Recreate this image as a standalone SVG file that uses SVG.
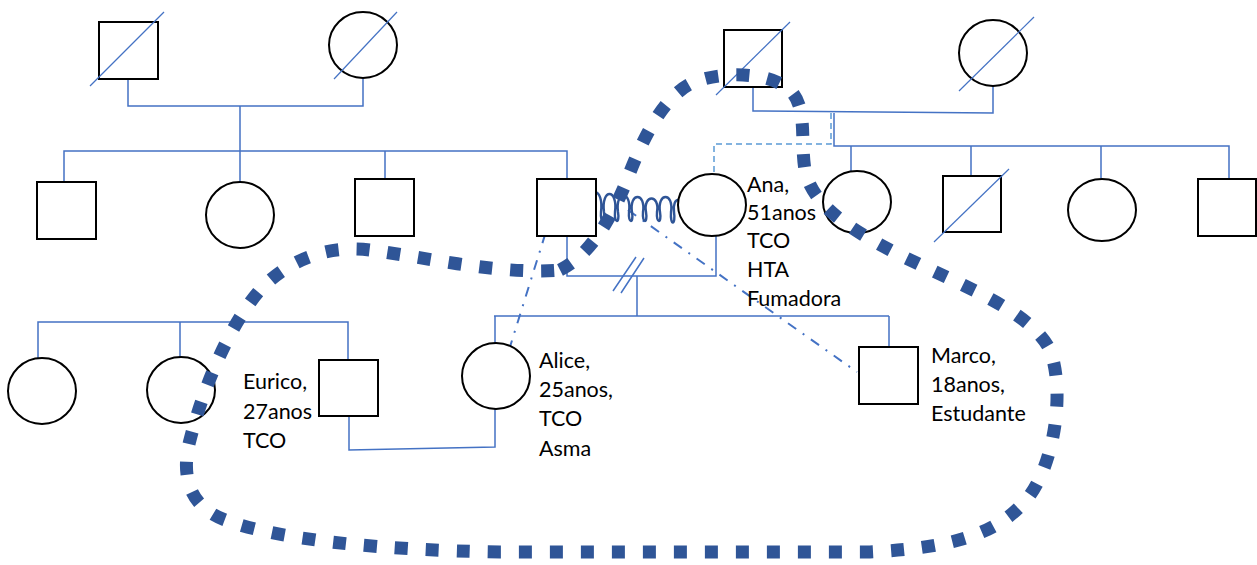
<svg xmlns="http://www.w3.org/2000/svg" width="1257" height="565" viewBox="0 0 1257 565">
<style>
.n{fill:#fff;stroke:#000;stroke-width:2}
.c{fill:none;stroke:#4472C4;stroke-width:1.5}
.d{fill:none;stroke:#5B9BD5;stroke-width:1.5;stroke-dasharray:6 4}
.dd{fill:none;stroke:#4472C4;stroke-width:2;stroke-dasharray:10 8 2 8}
.x{stroke:#4472C4;stroke-width:1.2}
.t{font-family:Lato,"Liberation Sans",sans-serif;font-size:21.5px;fill:#000}
</style>
<rect width="1257" height="565" fill="#fff"/>
<g id="connectors">
<path class="c" d="M128 79V106H363V79M240 106V151M64 182V151H567V180M385 151V179M240 151V182"/>
<path class="c" d="M753 87V111L993 113V86M834 113V146H1229V178M851 146V171M971 146V176M1101 146V178"/>
<path class="d" d="M831 113V144H714V175"/>
<path class="c" d="M567 236V276H716V236M637 276V316M494 316H889M495 316V343M889 316V347"/>
<path class="c" d="M613 291L636 257M621 293L644 258"/>
<path class="c" d="M495 409V447L349 450V416M38 358V322H348V360M180 322V357"/>
<path class="dd" d="M509 350L549 222"/>
<path class="dd" d="M628 210L857 372"/>
<path fill="none" stroke="#2F5597" stroke-width="2.4" d="M590 212c-3,-26 14,-26 11,0c-1,12 5,12 3,0c-3,-24 14,-24 11,0c-1,12 5,12 3,0c-3,-22 14,-22 11,0c-1,12 5,12 3,0c-3,-20 14,-20 11,0c-1,12 5,12 3,0c-3,-18 14,-18 11,0c-1,12 5,12 3,0c-3,-20 14,-20 11,0c-1,14 5,14 3,0c-2,-16 10,-16 8,0"/>
</g>
<g id="gp1"><rect class="n" x="99" y="22" width="59" height="57"/><line class="x" x1="90" y1="86" x2="164" y2="12"/></g>
<g id="gp2"><ellipse class="n" cx="363" cy="45" rx="34" ry="33"/><line class="x" x1="334" y1="79" x2="397" y2="12"/></g>
<g id="gp3"><rect class="n" x="724" y="30" width="58" height="57"/><line class="x" x1="716" y1="95" x2="790" y2="22"/></g>
<g id="gp4"><ellipse class="n" cx="993" cy="53" rx="34" ry="33"/><line class="x" x1="959" y1="91" x2="1034" y2="17"/></g>
<g id="s1"><rect class="n" x="37" y="182" width="59" height="57"/></g>
<g id="s2"><ellipse class="n" cx="240" cy="215" rx="34" ry="33"/></g>
<g id="s3"><rect class="n" x="355" y="179" width="59" height="57"/></g>
<g id="father"><rect class="n" x="537" y="179" width="59" height="57"/></g>
<g id="ana"><ellipse class="n" cx="712" cy="205" rx="34" ry="31"/>
<text class="t" x="747" y="192">Ana,</text><text class="t" x="747" y="220">51anos</text><text class="t" x="747" y="248">TCO</text><text class="t" x="747" y="277">HTA</text><text class="t" x="747" y="306">Fumadora</text></g>
<g id="s4"><ellipse class="n" cx="857" cy="202" rx="34" ry="31"/></g>
<g id="s5"><rect class="n" x="943" y="176" width="58" height="56"/><line class="x" x1="934" y1="242" x2="1009" y2="169"/></g>
<g id="s6"><ellipse class="n" cx="1102" cy="210" rx="34" ry="31"/></g>
<g id="s7"><rect class="n" x="1198" y="179" width="58" height="57"/></g>
<g id="c1"><ellipse class="n" cx="42" cy="391" rx="34" ry="33"/></g>
<g id="c2"><ellipse class="n" cx="181" cy="390" rx="34" ry="33"/></g>
<g id="eurico"><rect class="n" x="319" y="360" width="59" height="56"/>
<text class="t" x="243" y="389">Eurico,</text><text class="t" x="243" y="419">27anos</text><text class="t" x="243" y="448">TCO</text></g>
<g id="alice"><ellipse class="n" cx="496" cy="376" rx="34" ry="33"/>
<text class="t" x="539" y="368">Alice,</text><text class="t" x="539" y="397">25anos,</text><text class="t" x="539" y="426">TCO</text><text class="t" x="539" y="456">Asma</text></g>
<g id="marco"><rect class="n" x="859" y="347" width="59" height="57"/>
<text class="t" x="931" y="363">Marco,</text><text class="t" x="931" y="392">18anos,</text><text class="t" x="931" y="421">Estudante</text></g>
<g id="household">
<path fill="none" stroke="#2F5597" stroke-width="13" stroke-dasharray="13 18" d="M560 270C590 255 610 220 625 185C640 145 660 100 690 84C720 70 770 72 790 90C808 108 800 140 805 170C812 205 850 230 900 255C960 285 1030 310 1050 350C1065 390 1055 460 1030 495C1000 535 950 548 870 552L500 552C380 550 280 540 225 520C185 505 182 470 190 440C200 400 225 330 260 290C290 258 330 245 370 250C430 258 500 275 560 270Z"/>
</g>
</svg>
